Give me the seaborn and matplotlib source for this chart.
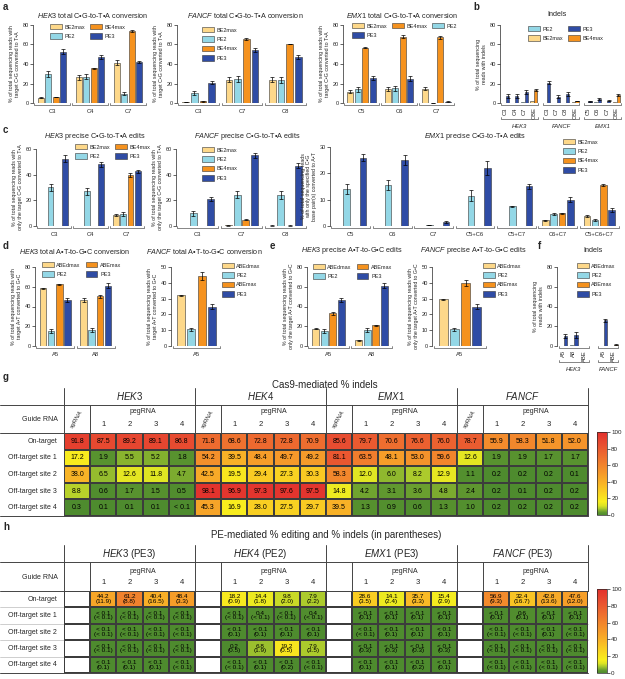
import numpy as np
import pandas as pd
import matplotlib.pyplot as plt
import matplotlib.transforms as mtransforms
from matplotlib.patches import Patch
from matplotlib.colors import LinearSegmentedColormap
import seaborn as sns

W, H = 625, 679

# ---------------- Data ----------------
CBE = ['BE2max', 'PE2', 'BE4max', 'PE3']
ABE = ['ABEdmax', 'PE2', 'ABEmax', 'PE3']

# a: total C•G-to-T•A conversion (rows follow CBE order)
a_hek3_sites = ['C3', 'C4', 'C7']
a_hek3 = [[5.5, 26.5, 41.5], [30.0, 27.0, 9.5], [6.0, 35.5, 73.5], [52.5, 47.5, 42.5]]
a_hek3_err = [[0.5, 2.5, 3.0], [3.0, 2.5, 1.5], [0.3, 0.3, 1.0], [2.5, 2.0, 1.0]]
a_fancf_sites = ['C3', 'C7', 'C8']
a_fancf = [[1.0, 24.0, 24.0], [10.0, 24.5, 24.0], [2.0, 65.5, 60.5], [21.0, 54.5, 47.0]]
a_fancf_err = [[0.3, 2.5, 2.5], [2.0, 3.0, 3.0], [0.5, 0.8, 0.5], [2.0, 2.0, 2.0]]
a_emx1_sites = ['C5', 'C6', 'C7']
a_emx1 = [[11.5, 14.5, 14.5], [14.0, 15.0, 0.3], [56.5, 68.0, 67.5], [26.0, 25.0, 1.5]]
a_emx1_err = [[1.5, 2.0, 1.5], [2.5, 2.5, 0.1], [0.5, 1.5, 1.5], [2.0, 2.5, 0.5]]

# b: indels (first/second bar at each position)
b_genes = ['HEK3', 'FANCF', 'EMX1']
b_sites = [['C3', 'C4', 'C7', 'CBE'], ['C3', 'C7', 'C8', 'CBE'], ['C5', 'C6', 'C7', 'CBE']]
b_first = [[0.5, 0.5, 1.0, 2.0], [0.3, 0.3, 0.5, 0.8], [0.5, 0.8, 0.5, 0.8]]
b_second = [[7.0, 7.0, 11.5, 13.5], [21.0, 6.5, 9.5, 2.0], [2.0, 4.0, 2.5, 8.0]]
b_err = [[2.0, 2.0, 2.0, 1.0], [2.0, 1.5, 2.0, 0.3], [0.5, 1.0, 0.5, 0.8]]

# c: precise C•G-to-T•A edits
c_hek3_sites = ['C3', 'C4', 'C7']
c_hek3 = [[0.0, 0.0, 8.5], [30.0, 27.0, 9.5], [0.0, 0.0, 39.5], [52.5, 48.0, 42.5]]
c_hek3_err = [[0, 0, 1.0], [3.0, 2.5, 1.5], [0, 0, 1.5], [2.5, 2.0, 1.0]]
c_fancf_sites = ['C3', 'C7', 'C8']
c_fancf = [[0.0, 0.5, 0.3], [10.0, 24.5, 24.0], [0.0, 5.0, 0.3], [21.0, 55.0, 47.0]]
c_fancf_err = [[0, 0.2, 0.1], [2.0, 2.5, 3.0], [0, 0.3, 0.1], [1.5, 2.0, 2.0]]
c_emx1_sites = ['C5', 'C6', 'C7', 'C5+C6', 'C5+C7', 'C6+C7', 'C5+C6+C7']
c_emx1 = [[0.0, 0.1, 0.1, 0.0, 0.0, 2.2, 3.8],
          [14.0, 15.5, 0.3, 11.5, 7.5, 4.5, 2.3],
          [0.1, 0.1, 0.1, 0.1, 0.0, 4.8, 15.5],
          [26.0, 25.0, 1.5, 22.0, 15.0, 10.0, 6.0]]
c_emx1_err = [[0, 0, 0, 0, 0, 0.2, 0.3], [2.0, 2.0, 0.1, 2.0, 0.2, 0.3, 0.5],
              [0, 0, 0, 0, 0, 0.2, 0.3], [1.5, 2.0, 0.3, 2.5, 1.0, 1.0, 0.8]]

# d: total A•T-to-G•C conversion (rows follow ABE order)
d_hek3_sites = ['A5', 'A8']
d_hek3 = [[58.5, 47.0], [15.5, 16.0], [62.5, 50.5], [47.0, 61.0]]
d_hek3_err = [[0.5, 2.0], [2.0, 2.0], [0.5, 1.5], [2.0, 2.5]]
d_fancf_sites = ['A5']
d_fancf = [[32.0], [10.5], [44.5], [25.0]]
d_fancf_err = [[0.3], [0.8], [2.5], [1.5]]

# e: precise A•T-to-G•C edits
e_hek3_sites = ['A5', 'A8']
e_hek3 = [[17.5, 6.0], [15.5, 16.0], [33.0, 21.0], [47.0, 61.0]]
e_hek3_err = [[0.5, 0.5], [2.0, 2.0], [1.5, 0.5], [2.0, 2.5]]
e_fancf_sites = ['A5']
e_fancf = [[29.5], [10.5], [40.0], [25.0]]
e_fancf_err = [[0.5], [0.8], [2.0], [1.5]]

# f: indels
f_genes = ['HEK3', 'FANCF']
f_sites = [['A5', 'A8', 'ABE'], ['A5', 'ABE']]
f_first = [[0.5, 1.5, 0.3], [0.3, 0.3]]
f_second = [[10.0, 11.0, 0.3], [26.0, 1.5]]
f_err = [[2.0, 3.0, 0.0], [1.5, 0.3]]

# g: Cas9-mediated % indels (columns: sgRNA, pegRNA 1-4)
rows = ['On-target', 'Off-target site 1', 'Off-target site 2', 'Off-target site 3', 'Off-target site 4']
g_genes = ['HEK3', 'HEK4', 'EMX1', 'FANCF']
g_hek3 = [['91.8', '87.5', '89.2', '89.1', '86.8'], ['17.2', '1.9', '5.5', '5.2', '1.8'],
          ['38.0', '6.5', '12.6', '11.8', '4.7'], ['8.8', '0.6', '1.7', '1.5', '0.5'],
          ['0.3', '0.1', '0.1', '0.1', '< 0.1']]
g_hek4 = [['71.8', '68.6', '72.8', '72.8', '70.9'], ['54.2', '39.5', '48.4', '49.7', '49.2'],
          ['42.5', '19.5', '29.4', '27.3', '30.3'], ['98.1', '96.9', '97.3', '97.6', '97.5'],
          ['45.3', '16.9', '28.0', '27.5', '29.7']]
g_emx1 = [['85.6', '79.7', '70.6', '76.6', '76.0'], ['81.1', '63.5', '48.1', '53.0', '59.6'],
          ['58.3', '12.0', '6.0', '8.2', '12.9'], ['14.8', '4.2', '3.1', '3.6', '4.8'],
          ['39.5', '1.3', '0.9', '0.6', '1.3']]
g_fancf = [['78.7', '55.9', '58.3', '51.8', '52.0'], ['12.6', '1.9', '1.9', '1.7', '1.7'],
           ['1.1', '0.2', '0.2', '0.2', '0.1'], ['2.4', '0.2', '0.1', '0.2', '0.2'],
           ['1.0', '0.2', '0.2', '0.2', '0.2']]

# h: PE-mediated % editing (and % indels), pegRNA 1-4
h_titles = ['HEK3', 'HEK4', 'EMX1', 'FANCF']
h_editors = ['PE3', 'PE2', 'PE3', 'PE3']
h_hek3_edit = [['44.2', '61.2', '40.4', '48.4']] + [['< 0.1'] * 4] * 4
h_hek3_indel = [['11.9', '8.8', '16.5', '3.3'], ['< 0.1'] * 4, ['< 0.1'] * 4, ['< 0.1'] * 4,
                ['0.1', '0.1', '0.1', '< 0.1']]
h_hek4_edit = [['18.2', '14.4', '9.8', '7.9'], ['< 0.1', '0.4', '< 0.1', '0.4'], ['< 0.1'] * 4,
               ['0.2', '6.8', '19.2', '7.9'], ['< 0.1'] * 4]
h_hek4_indel = [['0.9', '1.8', '2.0', '2.2'], ['< 0.1'] * 4, ['0.1'] * 4,
                ['0.5', '1.9', '0.5', '3.5'], ['< 0.1', '0.1', '0.2', '< 0.1']]
h_emx1_edit = [['28.6', '14.1', '35.7', '15.4']] + [['< 0.1'] * 4] * 4
h_emx1_indel = [['3.5', '2.4', '3.3', '2.9'], ['0.1'] * 4, ['< 0.1', '0.1', '0.1', '0.1'],
                ['0.3'] * 4, ['0.1', '0.1', '0.2', '0.1']]
h_fancf_edit = [['56.9', '32.4', '42.8', '47.6'], ['< 0.1', '0.6', '< 0.1', '< 0.1'],
                ['< 0.1'] * 4, ['< 0.1'] * 4, ['< 0.1'] * 4]
h_fancf_indel = [['9.3', '16.7', '13.6', '12.0'], ['0.1'] * 4, ['< 0.1', '< 0.1', '0.1', '< 0.1'],
                 ['< 0.1'] * 4, ['< 0.1'] * 4]

COL = {'BE2max': '#fdd88a', 'ABEdmax': '#fdd88a', 'PE2': '#93d7e6',
       'BE4max': '#f5921e', 'ABEmax': '#f5921e', 'PE3': '#2f4ca5'}
EDGE = '#353535'

sns.set_theme(style='ticks')
plt.rcParams['font.family'] = ['Liberation Sans', 'DejaVu Sans']
plt.rcParams['mathtext.fontset'] = 'custom'
plt.rcParams['mathtext.it'] = 'Liberation Sans:italic'
plt.rcParams['mathtext.rm'] = 'Liberation Sans'
plt.rcParams['axes.linewidth'] = 0.5

fig = plt.figure(figsize=(W / 100, H / 100), dpi=100)


def px_axes(l, t, r, b):
    return fig.add_axes([l / W, 1 - b / H, (r - l) / W, (b - t) / H])


def bracket(ax, x0, x1, y, h=0.025):
    tr = mtransforms.blended_transform_factory(ax.transData, ax.transAxes)
    ax.plot([x0, x0, x1, x1], [y + h, y, y, y + h], transform=tr, clip_on=False,
            color='#555555', lw=0.5)


def style(ax, ymax, step, ylabel):
    ax.set_ylim(0, ymax)
    ax.set_yticks(np.arange(0, ymax + 1, step))
    sns.despine(ax=ax, bottom=True)
    ax.spines['left'].set_linewidth(0.5)
    ax.tick_params(axis='y', labelsize=4, length=2, width=0.5, pad=1)
    ax.tick_params(axis='x', labelsize=4.2, length=0, pad=4)
    ax.set_xlabel('')
    ax.set_ylabel(ylabel, fontsize=3.8, labelpad=2, linespacing=1.1)


def add_err(ax, conts, errs):
    for cont, err in zip(conts, errs):
        for bar, e in zip(cont, err):
            if e > 0:
                ax.errorbar(bar.get_x() + bar.get_width() / 2, bar.get_height(), yerr=e,
                            fmt='none', ecolor='black', elinewidth=0.5, capsize=1.1, capthick=0.5)


def grouped(ax, sites, names, vals, errs, ymax, step, ylabel):
    df = pd.DataFrame([(s, n, v) for n, row in zip(names, vals) for s, v in zip(sites, row)],
                      columns=['site', 'editor', 'value'])
    sns.barplot(data=df, x='site', y='value', hue='editor', order=sites, hue_order=names,
                palette=[COL[n] for n in names], saturation=1, width=0.8, gap=0.2,
                edgecolor=EDGE, linewidth=0.4, errorbar=None, legend=False, ax=ax)
    add_err(ax, list(ax.containers)[:len(names)], errs)
    for i in range(len(sites)):
        bracket(ax, i - 0.47, i + 0.47, -0.03)
    ax.set_xlim(-0.5, len(sites) - 0.5)
    style(ax, ymax, step, ylabel)


def paired(ax, genes, sites, first, second, err, base, ymax, step, ylabel, gap):
    pos, labels, spans = [], [], []
    off = 0.0
    for gs in sites:
        p = [off + i for i in range(len(gs))]
        spans.append((p[0], p[-1]))
        pos += p
        labels += gs
        off += len(gs) + gap
    f_all, s_all, e_all = sum(first, []), sum(second, []), sum(err, [])
    df = pd.DataFrame({'pos': pos * 2, 'slot': ['a'] * len(pos) + ['b'] * len(pos),
                       'value': f_all + s_all})
    sns.barplot(data=df, x='pos', y='value', hue='slot', native_scale=True, width=0.8, gap=0.15,
                palette=['#cccccc', '#333333'], saturation=1, edgecolor=EDGE, linewidth=0.4,
                errorbar=None, legend=False, ax=ax)
    conts = list(ax.containers)[:2]
    for k, cont in enumerate(conts):
        for bar in cont:
            idx = int(np.argmin([abs(bar.get_x() + bar.get_width() / 2 - p) for p in pos]))
            pair = base if labels[idx] in ('CBE', 'ABE') else ('PE2', 'PE3')
            bar.set_facecolor(COL[pair[k]])
    # error bars on the second bar of each pair
    ordered = sorted(conts[1], key=lambda b: b.get_x())
    add_err(ax, [ordered], [e_all])
    ax.set_xlim(pos[0] - 0.6, pos[-1] + 0.6)
    style(ax, ymax, step, ylabel)
    ax.set_xticks(pos, labels, rotation=90)
    ax.tick_params(axis='x', pad=3)
    tr = mtransforms.blended_transform_factory(ax.transData, ax.transAxes)
    for g, (p0, p1) in zip(genes, spans):
        bracket(ax, p0 - 0.45, p1 + 0.45, -0.03)
        bracket(ax, p0 - 0.45, p1 + 0.45, -0.2)
        ax.text((p0 + p1) / 2, -0.3, g, transform=tr, ha='center', va='center',
                fontsize=4.2, style='italic')


def legend(ax, handles_names, x, y, ncol=1):
    handles = [Patch(facecolor=COL[n], edgecolor=EDGE, linewidth=0.4, label=n) for n in handles_names]
    ax.legend(handles=handles, loc='upper left', bbox_to_anchor=(x / W, 1 - y / H),
              bbox_transform=fig.transFigure, ncol=ncol, frameon=False, fontsize=4,
              handlelength=2.1, handleheight=1.1, handletextpad=0.5, labelspacing=0.7,
              columnspacing=0.9, borderpad=0, borderaxespad=0)


def title(x, y, s, size=5.2):
    fig.text(x / W, 1 - y / H, s, ha='center', va='center', fontsize=size)


def letter(x, y, s):
    fig.text(x / W, 1 - y / H, s, ha='left', va='center', fontsize=7, weight='bold')


ylab_a = '% of total sequencing reads with\ntarget C•G converted to T•A'
ylab_ind = '% of total sequencing\nreads with indels'
ylab_c = '% of total sequencing reads with\nonly the target C•G converted to T•A'
ylab_c3 = '% of total sequencing reads\nwith only the specified C•G\nbase pair(s) converted to A•T'
ylab_d = '% of total sequencing reads with\ntarget A•T converted to G•C'
ylab_e = '% of total sequencing reads with\nonly the target A•T converted to G•C'

# ---------------- a ----------------
ax = px_axes(33, 25, 147, 103)
grouped(ax, a_hek3_sites, CBE, a_hek3, a_hek3_err, 80, 20, ylab_a)
legend(ax, CBE, 50, 24, ncol=2)
ax = px_axes(177, 25, 307, 103)
grouped(ax, a_fancf_sites, CBE, a_fancf, a_fancf_err, 80, 20, ylab_a)
legend(ax, CBE, 202, 27)
ax = px_axes(343, 25, 455, 103)
grouped(ax, a_emx1_sites, CBE, a_emx1, a_emx1_err, 80, 20, ylab_a)
legend(ax, ['BE2max', 'PE3', 'BE4max', 'PE2'], 352, 23, ncol=3)
title(93, 15, r'$\it{HEK3}$ total C•G-to-T•A conversion')
title(245, 15, r'$\it{FANCF}$ total C•G-to-T•A conversion')
title(402, 15, r'$\it{EMX1}$ total C•G-to-T•A conversion')

# ---------------- b ----------------
ax = px_axes(500, 25, 622, 103)
paired(ax, b_genes, b_sites, b_first, b_second, b_err, ('BE2max', 'BE4max'), 80, 20, ylab_ind, 0.4)
legend(ax, ['PE2', 'BE2max', 'PE3', 'BE4max'], 528, 26, ncol=2)
title(557, 15, 'Indels')

# ---------------- c ----------------
ax = px_axes(36, 149, 145, 226)
grouped(ax, c_hek3_sites, CBE, c_hek3, c_hek3_err, 60, 20, ylab_c)
legend(ax, CBE, 75, 144, ncol=2)
ax = px_axes(176, 149, 307, 226)
grouped(ax, c_fancf_sites, CBE, c_fancf, c_fancf_err, 60, 20, ylab_c)
legend(ax, CBE, 202, 147)
ax = px_axes(330, 147, 620, 226)
grouped(ax, c_emx1_sites, CBE, c_emx1, c_emx1_err, 30, 10, ylab_c3)
legend(ax, CBE, 563, 139)
title(95, 137, r'$\it{HEK3}$ precise C•G-to-T•A edits')
title(247, 137, r'$\it{FANCF}$ precise C•G-to-T•A edits')
title(475, 137, r'$\it{EMX1}$ precise C•G-to-T•A edits')

# ---------------- d / e / f ----------------
ax = px_axes(35, 267, 116, 346)
grouped(ax, d_hek3_sites, ABE, d_hek3, d_hek3_err, 80, 20, ylab_d)
legend(ax, ABE, 42, 262, ncol=2)
ax = px_axes(171, 267, 222, 346)
grouped(ax, d_fancf_sites, ABE, d_fancf, d_fancf_err, 50, 10, ylab_d)
legend(ax, ABE, 222, 263)
ax = px_axes(307, 267, 393, 346)
grouped(ax, e_hek3_sites, ABE, e_hek3, e_hek3_err, 80, 20, ylab_e)
legend(ax, ABE, 313, 264, ncol=2)
ax = px_axes(432, 267, 488, 346)
grouped(ax, e_fancf_sites, ABE, e_fancf, e_fancf_err, 50, 10, ylab_e)
legend(ax, ABE, 483, 263)
ax = px_axes(557, 267, 620, 346)
paired(ax, f_genes, f_sites, f_first, f_second, f_err, ('ABEdmax', 'ABEmax'), 80, 20, ylab_ind, 0.8)
legend(ax, ABE, 577, 263)
title(75, 251, r'$\it{HEK3}$ total A•T-to-G•C conversion')
title(204, 251, r'$\it{FANCF}$ total A•T-to-G•C conversion')
title(352, 251, r'$\it{HEK3}$ precise A•T-to-G•C edits')
title(473, 251, r'$\it{FANCF}$ precise A•T-to-G•C edits')
title(593, 251, 'Indels')

# ---------------- heatmaps ----------------
cmap = LinearSegmentedColormap.from_list('indel', [
    (0.0, '#4e8b2e'), (0.03, '#62992f'), (0.07, '#a0c42e'), (0.11, '#dbe324'),
    (0.16, '#f8ee1e'), (0.24, '#f9da20'), (0.36, '#f9b926'), (0.5, '#f5992a'),
    (0.7, '#ee6f2f'), (0.85, '#e84f31'), (1.0, '#e2302d')])


def to_num(s):
    return 0.05 if s.startswith('<') else float(s)


def finish_heat(ax, cax):
    ax.tick_params(axis='y', length=0, pad=5, labelsize=5)
    plt.setp(ax.get_yticklabels(), rotation=0, ha='right')
    cb = ax.collections[0].colorbar
    cb.outline.set_linewidth(0.5)
    cax.tick_params(labelsize=4.5, length=2, width=0.5, pad=1)


def header(ax, titles, top, sub, peg_y, num_y, guide_y, full, sg):
    left = -64 / (524 / 20)
    kw = dict(color='#444444', lw=0.7, clip_on=False)
    for y in (sub, 0, 5):
        ax.plot([left, 20], [y, y], **kw)
    for gi, t in enumerate(titles):
        x0 = gi * 5
        ax.text(x0 + 2.5, (top + sub) / 2, t, ha='center', va='center', fontsize=7)
        ax.text(x0 + 3, peg_y, 'pegRNA', ha='center', va='center', fontsize=5)
        for k in range(4):
            ax.text(x0 + 1.5 + k, num_y, str(k + 1), ha='center', va='center', fontsize=5.5)
        ax.plot([x0 + 1, x0 + 1], [sub, 0], **kw)
        if sg:
            ax.text(x0 + 0.5, (sub + 0) / 2, 'sgRNA', rotation=60, ha='center', va='center',
                    fontsize=4.5, style='italic')
    for x in range(0, 21, 5):
        ax.plot([x, x], [top, 5 if full else 0], **kw)
    ax.text(-0.25, guide_y, 'Guide RNA', ha='right', va='center', fontsize=5)


# g
g_txt = np.hstack([np.array(t) for t in (g_hek3, g_hek4, g_emx1, g_fancf)])
g_val = np.vectorize(to_num)(g_txt).astype(float)
axg = px_axes(64, 433, 588, 516)
cbg = px_axes(597, 432, 607, 515)
sns.heatmap(g_val, ax=axg, cbar_ax=cbg, cmap=cmap, vmin=0, vmax=100, annot=g_txt, fmt='',
            annot_kws=dict(size=5, color='black'), linewidths=0.3, linecolor='#3c3c3c',
            xticklabels=False, yticklabels=rows, cbar_kws=dict(ticks=range(0, 101, 20)))
finish_heat(axg, cbg)
header(axg, [r'$\it{%s}$' % g for g in g_genes], -2.71, -1.69, -1.27, -0.5, -0.84, True, True)

# h
h_val = np.full((5, 20), np.nan)
h_txt = np.full((5, 20), '', dtype=object)
for gi, (ed, ind) in enumerate([(h_hek3_edit, h_hek3_indel), (h_hek4_edit, h_hek4_indel),
                                 (h_emx1_edit, h_emx1_indel), (h_fancf_edit, h_fancf_indel)]):
    for r in range(5):
        for k in range(4):
            h_val[r, gi * 5 + 1 + k] = to_num(ed[r][k])
            h_txt[r, gi * 5 + 1 + k] = f'{ed[r][k]}\n({ind[r][k]})'
axh = px_axes(64, 591, 588, 673)
cbh = px_axes(597, 589, 607, 673)
left = -64 / (524 / 20)
for r in range(1, 5):
    axh.plot([left, 20], [r, r], color='#bbbbbb', lw=0.5, clip_on=False, zorder=0.5)
sns.heatmap(h_val, ax=axh, cbar_ax=cbh, cmap=cmap, vmin=0, vmax=100, annot=h_txt, fmt='',
            annot_kws=dict(size=4.6, color='black', linespacing=0.9), linewidths=0.3,
            linecolor='#3c3c3c', xticklabels=False, yticklabels=rows,
            cbar_kws=dict(ticks=range(0, 101, 20)))
finish_heat(axh, cbh)
header(axh, [r'$\it{%s}$ (%s)' % (g, e) for g, e in zip(h_titles, h_editors)],
       -2.8, -1.77, -1.16, -0.49, -0.8, False, False)

title(325, 385, 'Cas9-mediated % indels', size=7)
title(326, 535, 'PE-mediated % editing and % indels (in parentheses)', size=7)

letter(3, 7, 'a')
letter(473, 7, 'b')
letter(3, 130, 'c')
letter(3, 246, 'd')
letter(270, 246, 'e')
letter(538, 246, 'f')
letter(3, 377, 'g')
letter(3, 527, 'h')

fig.savefig('out.png', dpi=100)
